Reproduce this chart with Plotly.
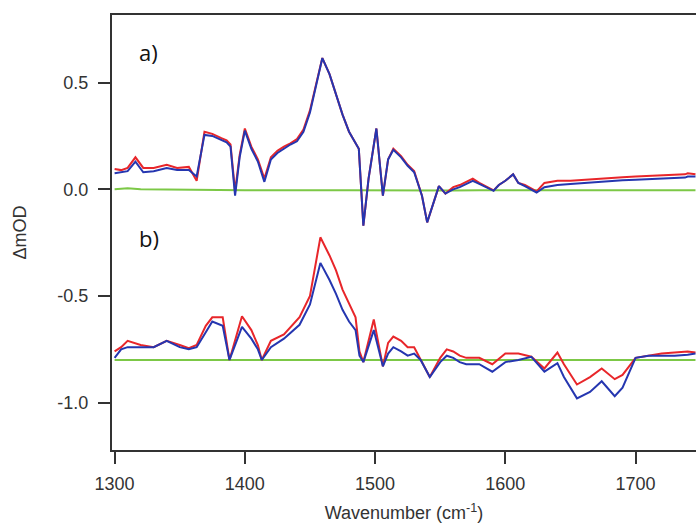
import plotly.graph_objects as go

# ---- panel a) ----
wn_a = [1300, 1305, 1310, 1316, 1322, 1330, 1340, 1348, 1357, 1363, 1369, 1375, 1382, 1386, 1389,
        1392.5, 1396, 1400, 1405, 1410, 1415, 1420, 1425, 1430, 1435, 1440, 1445, 1450, 1455, 1459.5,
        1465, 1470, 1475, 1480, 1485, 1487.5, 1491, 1495, 1501, 1506, 1510, 1514, 1520, 1525, 1530,
        1533, 1536, 1540, 1545, 1549, 1554, 1560, 1565, 1575, 1580, 1585, 1591, 1595, 1600, 1606,
        1610, 1615, 1620, 1624, 1630, 1640, 1650, 1660, 1670, 1680, 1690, 1700, 1710, 1720, 1730,
        1738, 1740, 1746]
blue_a = [0.075, 0.08, 0.085, 0.13, 0.08, 0.085, 0.10, 0.09, 0.09, 0.06, 0.255, 0.25, 0.23, 0.22, 0.20,
          -0.03, 0.15, 0.275, 0.19, 0.13, 0.035, 0.14, 0.17, 0.19, 0.21, 0.225, 0.27, 0.36, 0.50, 0.615,
          0.54, 0.44, 0.35, 0.27, 0.22, 0.19, -0.17, 0.05, 0.285, -0.03, 0.14, 0.185, 0.15, 0.11, 0.08,
          0.03, -0.03, -0.155, -0.06, 0.015, -0.02, 0.0, 0.01, 0.04, 0.025, 0.01, -0.007, 0.02, 0.04, 0.07,
          0.03, 0.015, 0.0, -0.015, 0.01, 0.02, 0.025, 0.03, 0.035, 0.04, 0.042, 0.045, 0.048, 0.05, 0.055,
          0.055, 0.06, 0.06]
red_a = [0.095, 0.09, 0.10, 0.15, 0.10, 0.10, 0.115, 0.10, 0.105, 0.04, 0.27, 0.26, 0.24, 0.23, 0.21,
         -0.01, 0.16, 0.285, 0.20, 0.14, 0.05, 0.15, 0.18, 0.20, 0.215, 0.235, 0.28, 0.37, 0.50, 0.615,
         0.54, 0.44, 0.35, 0.27, 0.22, 0.19, -0.17, 0.05, 0.285, -0.03, 0.14, 0.19, 0.155, 0.115, 0.085,
         0.03, -0.03, -0.155, -0.06, 0.015, -0.02, 0.01, 0.02, 0.05, 0.03, 0.015, -0.005, 0.02, 0.04, 0.07,
         0.03, 0.02, 0.005, -0.01, 0.03, 0.04, 0.04, 0.045, 0.05, 0.055, 0.057, 0.06, 0.062, 0.065, 0.068,
         0.07, 0.075, 0.07]
wn_ga = [1300, 1310, 1320, 1340, 1360, 1380, 1400, 1420, 1440, 1460, 1480, 1500, 1520, 1540, 1560,
         1580, 1600, 1620, 1640, 1660, 1680, 1700, 1720, 1746]
green_a = [0.0, 0.005, 0.0, -0.002, -0.003, -0.003, -0.004, -0.003, -0.004, -0.004, -0.004, -0.005,
           -0.006, -0.008, -0.006, -0.005, -0.005, -0.006, -0.005, -0.006, -0.006, -0.005, -0.006, -0.005]

# ---- panel b) ----
wn_b = [1300, 1305, 1310, 1320, 1330, 1340, 1350, 1357, 1363, 1370, 1375, 1383, 1388.2, 1397.8, 1405,
        1410, 1413, 1420, 1430, 1442, 1450, 1458, 1465, 1470, 1475, 1480, 1485, 1488, 1491, 1499,
        1506, 1510, 1514, 1520, 1525, 1530, 1535, 1542, 1550, 1555, 1560, 1565, 1570, 1580, 1590,
        1600, 1610, 1620, 1630, 1640, 1645, 1655, 1665, 1674, 1684, 1690, 1700, 1710, 1720, 1730,
        1740, 1746]
red_b = [-0.76, -0.74, -0.71, -0.73, -0.74, -0.71, -0.73, -0.745, -0.73, -0.64, -0.60, -0.60, -0.80, -0.595, -0.66,
         -0.73, -0.80, -0.71, -0.68, -0.60, -0.50, -0.225, -0.31, -0.38, -0.47, -0.535, -0.60, -0.76, -0.81, -0.61,
         -0.83, -0.72, -0.69, -0.71, -0.74, -0.74, -0.80, -0.88, -0.79, -0.75, -0.76, -0.78, -0.79, -0.79, -0.82,
         -0.77, -0.77, -0.785, -0.84, -0.765, -0.82, -0.915, -0.88, -0.84, -0.89, -0.87, -0.79, -0.78, -0.77, -0.765,
         -0.76, -0.765]
blue_b = [-0.79, -0.75, -0.74, -0.74, -0.74, -0.71, -0.74, -0.75, -0.74, -0.67, -0.62, -0.64, -0.80, -0.645, -0.70,
          -0.75, -0.80, -0.74, -0.70, -0.635, -0.54, -0.345, -0.425, -0.49, -0.565, -0.62, -0.66, -0.78, -0.81, -0.66,
          -0.83, -0.77, -0.74, -0.76, -0.78, -0.77, -0.80, -0.88, -0.81, -0.78, -0.79, -0.81, -0.82, -0.82, -0.855,
          -0.81, -0.80, -0.785, -0.855, -0.815, -0.88, -0.98, -0.95, -0.90, -0.97, -0.93, -0.79, -0.78, -0.78, -0.78,
          -0.775, -0.77]
wn_gb = [1300, 1746]
green_b = [-0.80, -0.80]

x_ticks = [1300, 1400, 1500, 1600, 1700]
y_ticks = [-1.0, -0.5, 0.0, 0.5]
y_tick_text = ["-1.0", "-0.5", "0.0", "0.5"]

RED = "#e8262a"
BLUE = "#2536b0"
GREEN = "#7cc846"
AX = "#333333"

fig = go.Figure()
for xs, ys, c in [(wn_ga, green_a, GREEN), (wn_gb, green_b, GREEN),
                  (wn_a, red_a, RED), (wn_b, red_b, RED),
                  (wn_a, blue_a, BLUE), (wn_b, blue_b, BLUE)]:
    fig.add_trace(go.Scatter(x=xs, y=ys, mode="lines", line=dict(color=c, width=2),
                             showlegend=False, hoverinfo="skip"))

fig.add_annotation(x=1317, y=0.645, text="a)", showarrow=False, xanchor="left", yanchor="middle",
                   font=dict(size=22, color="#111111", family="Open Sans"))
fig.add_annotation(x=1317, y=-0.228, text="b)", showarrow=False, xanchor="left", yanchor="middle",
                   font=dict(size=22, color="#111111", family="Open Sans"))

fig.update_layout(
    width=696, height=527,
    margin=dict(l=112, r=0, t=15, b=77),
    paper_bgcolor="white", plot_bgcolor="white",
    font=dict(family="Liberation Sans, Arial", size=18, color=AX),
    xaxis=dict(range=[1298, 1746.4], tickvals=x_ticks, ticks="outside", ticklen=12, tickwidth=2,
               tickcolor=AX, showline=True, linewidth=2, linecolor=AX, mirror=True, showgrid=False,
               zeroline=False, ticklabelstandoff=4,
               title=dict(text="Wavenumber (cm<sup>-1</sup>)", font=dict(size=18), standoff=14)),
    yaxis=dict(range=[-1.222, 0.817], tickvals=y_ticks, ticktext=y_tick_text, ticks="outside", ticklen=12,
               tickwidth=2, tickcolor=AX, showline=True, linewidth=2, linecolor=AX, mirror=False,
               showgrid=False, zeroline=False, ticklabelstandoff=6,
               title=dict(text="ΔmOD", font=dict(size=18), standoff=26)),
)

fig.write_html("out.html")
